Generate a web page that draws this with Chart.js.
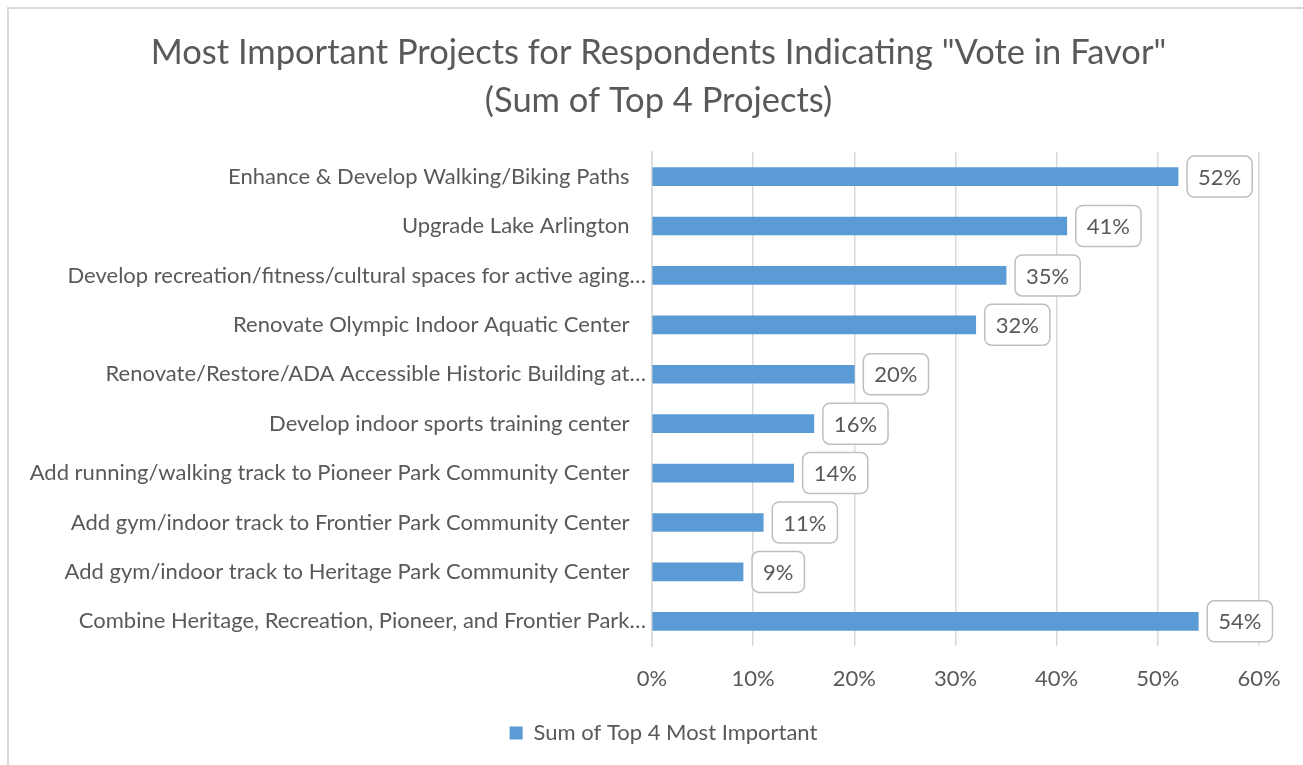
<!DOCTYPE html>
<html>
<head>
<meta charset="utf-8">
<script src="https://cdn.jsdelivr.net/npm/chart.js@4.4.1/dist/chart.umd.min.js"></script>
<style>
  html, body { margin: 0; padding: 0; background: #ffffff; }
  #wrap { position: relative; width: 1303px; height: 765px; overflow: hidden; }
  #frame {
    position: absolute; left: 7px; top: 7px; width: 1400px; height: 900px;
    border-left: 2px solid #d9d9d9; border-top: 2px solid #d9d9d9;
    pointer-events: none;
  }
</style>
</head>
<body>
<div id="wrap">
  <canvas id="chart"></canvas>
  <div id="frame"></div>
</div>
<script>
// Survey results: share of "vote in favor" respondents ranking each project in their top 4
const projects = [
  "Enhance & Develop Walking/Biking Paths",
  "Upgrade Lake Arlington",
  "Develop recreation/fitness/cultural spaces for active aging\u2026",
  "Renovate Olympic Indoor Aquatic Center",
  "Renovate/Restore/ADA Accessible Historic Building at\u2026",
  "Develop indoor sports training center",
  "Add running/walking track to Pioneer Park Community Center",
  "Add gym/indoor track to Frontier Park Community Center",
  "Add gym/indoor track to Heritage Park Community Center",
  "Combine Heritage, Recreation, Pioneer, and Frontier Park\u2026"
];
const topFourShare = [52, 41, 35, 32, 20, 16, 14, 11, 9, 54];
const seriesName = "Sum of Top 4 Most Important";
const titleLines = ["Most Important Projects for Respondents Indicating \"Vote in Favor\"", "(Sum of Top 4 Projects)"];
const axisMax = 60;
const axisStep = 10;

const FONT = "Lato, 'Open Sans', sans-serif";
const TEXT = "#595959";
const BAR = "#5b9bd5";
const SIZE = 22;

// Boxed value callouts to the right of each bar
const valueBoxes = {
  id: "valueBoxes",
  afterDatasetsDraw(chart) {
    const ctx = chart.ctx;
    const meta = chart.getDatasetMeta(0);
    const data = chart.data.datasets[0].data;
    ctx.save();
    ctx.font = SIZE + "px " + FONT;
    ctx.textBaseline = "middle";
    ctx.textAlign = "center";
    meta.data.forEach((bar, i) => {
      const txt = data[i] + "%";
      const w = ctx.measureText(txt).width + 22;
      const h = 41;
      const x0 = bar.x + 9;
      const y0 = bar.y - h / 2;
      ctx.beginPath();
      ctx.roundRect(x0, y0, w, h, 7);
      ctx.fillStyle = "#ffffff";
      ctx.fill();
      ctx.lineWidth = 1.5;
      ctx.strokeStyle = "#bfbfbf";
      ctx.stroke();
      ctx.fillStyle = TEXT;
      ctx.fillText(txt, x0 + w / 2, bar.y + 1);
    });
    ctx.restore();
  }
};

// Centre the title and legend on the whole frame rather than the padded box
const recentre = {
  id: "recentre",
  afterLayout(chart) {
    if (chart.titleBlock) { chart.titleBlock.left += 24; chart.titleBlock.right += 24; }
    if (chart.legend) { chart.legend.left += 29; chart.legend.right += 29; }
  }
};

new Chart(document.getElementById("chart"), {
  type: "bar",
  data: {
    labels: projects,
    datasets: [{
      label: seriesName,
      data: topFourShare,
      backgroundColor: BAR,
      borderWidth: 0,
      barThickness: 18
    }]
  },
  options: {
    indexAxis: "y",
    responsive: true,
    maintainAspectRatio: false,
    animation: false,
    layout: { padding: { left: 10, right: 44, top: 9, bottom: 11 } },
    scales: {
      x: {
        min: 0,
        max: axisMax,
        ticks: {
          stepSize: axisStep,
          color: TEXT,
          font: { family: FONT, size: SIZE },
          padding: 20,
          callback: v => v + "%"
        },
        grid: { color: "#d9d9d9", lineWidth: 1.5, drawTicks: false },
        border: { display: false },
        afterFit: s => { s.height = 66; }
      },
      y: {
        ticks: {
          color: TEXT,
          font: { family: FONT, size: SIZE },
          padding: 6,
          autoSkip: false,
          callback: function (v) {
            const t = this.getLabelForValue(v);
            return t.endsWith("\u2026") ? t : t + "\u2002\u2005";
          }
        },
        grid: { display: false, drawTicks: false },
        border: { display: true, color: "#d9d9d9", width: 1.5 },
        afterFit: s => { s.width = 642; }
      }
    },
    plugins: {
      title: {
        display: true,
        text: titleLines,
        color: TEXT,
        font: { family: FONT, size: 34.5, weight: "normal", lineHeight: 1.39 },
        padding: { top: 20, bottom: 27 }
      },
      legend: {
        position: "bottom",
        labels: {
          color: TEXT,
          font: { family: FONT, size: SIZE },
          boxWidth: 13,
          boxHeight: 13,
          padding: 10
        }
      },
      tooltip: { enabled: false }
    }
  },
  plugins: [valueBoxes, recentre]
});
</script>
</body>
</html>
